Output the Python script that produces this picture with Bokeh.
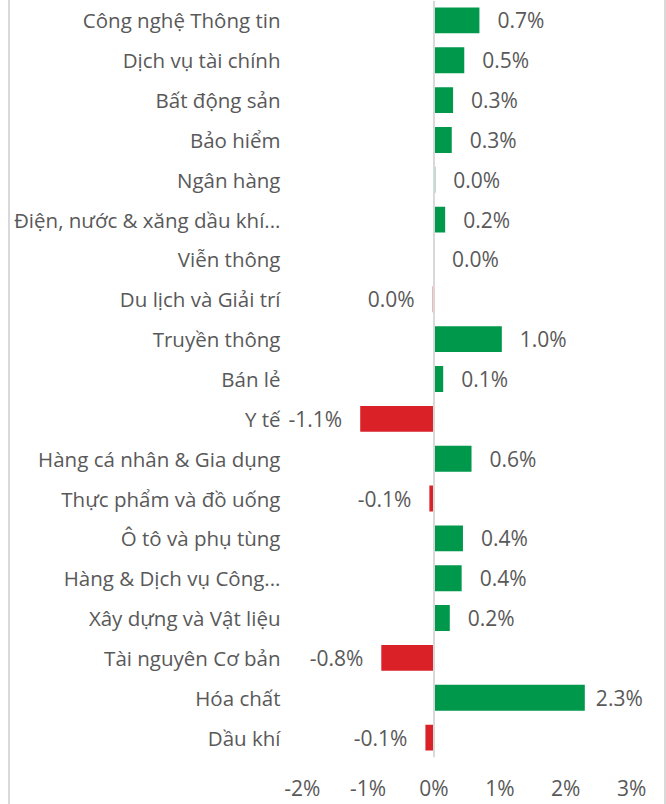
from bokeh.plotting import figure
from bokeh.models import (ColumnDataSource, FactorRange, Range1d, FixedTicker,
                          PrintfTickFormatter, Span, Div)
from bokeh.layouts import row
from bokeh.core.properties import value
from bokeh.embed import file_html
from bokeh.resources import INLINE

categories = [
    "Công nghệ Thông tin", "Dịch vụ tài chính", "Bất động sản", "Bảo hiểm",
    "Ngân hàng", "Điện, nước & xăng dầu khí...", "Viễn thông",
    "Du lịch và Giải trí", "Truyền thông", "Bán lẻ", "Y tế",
    "Hàng cá nhân & Gia dụng", "Thực phẩm và đồ uống", "Ô tô và phụ tùng",
    "Hàng & Dịch vụ Công...", "Xây dựng và Vật liệu", "Tài nguyên Cơ bản",
    "Hóa chất", "Dầu khí",
]
changes = [0.69, 0.46, 0.29, 0.27, 0.02, 0.17, 0.0, -0.02, 1.03, 0.14, -1.12,
           0.57, -0.07, 0.44, 0.42, 0.24, -0.80, 2.29, -0.13]
x_ticks = [-2, -1, 0, 1, 2, 3]

GREEN = "#00994C"
RED = "#DA2128"
TXT = "#595959"
FONT = "Open Sans"
FS = "21px"
FS_CAT = "20.5px"

X_START, X_END = -2.3, 3.5
PX_PER_UNIT = 65.85          # frame scale (px per 1 %)
GAP_PX = 18                  # gap between bar end and its label
LABEL_W_PX = 52              # approximate width of a "0.0%" label
LABEL_LIMIT = 3.17           # right edge of the chart area (data units)


def fmt(v):
    r = round(v, 1)
    if r == 0:
        return "0.0%"
    return f"{r:.1f}%"


colors = [GREEN if v >= 0 else RED for v in changes]
labels = [fmt(v) for v in changes]

src = ColumnDataSource(dict(cat=categories, val=changes, color=colors))

pos_c, pos_v, pos_l = [], [], []
clamp_c, clamp_l = [], []
neg_c, neg_v, neg_l = [], [], []
for c, v, l in zip(categories, changes, labels):
    if v >= 0:
        if v + (GAP_PX + LABEL_W_PX) / PX_PER_UNIT > LABEL_LIMIT:
            clamp_c.append(c); clamp_l.append(l)
        else:
            pos_c.append(c); pos_v.append(v); pos_l.append(l)
    else:
        neg_c.append(c); neg_v.append(v); neg_l.append(l)

pos = ColumnDataSource(dict(cat=pos_c, val=pos_v, lab=pos_l))
clamp = ColumnDataSource(dict(cat=clamp_c, val=[LABEL_LIMIT] * len(clamp_c),
                              lab=clamp_l))
neg = ColumnDataSource(dict(cat=neg_c, val=neg_v, lab=neg_l))

p = figure(width=654, height=804, output_backend="svg", toolbar_location=None,
           y_range=FactorRange(factors=list(reversed(categories))),
           x_range=Range1d(X_START, X_END),
           min_border_left=272, min_border_right=0, min_border_top=0,
           min_border_bottom=43)
p.outline_line_color = None
p.xgrid.visible = False
p.ygrid.visible = False
p.background_fill_color = "white"
p.border_fill_color = "white"

p.add_layout(Span(location=0, dimension="height", line_color="#D9D9D9",
                  line_width=2))

p.hbar(y="cat", right="val", left=0, height=0.65, color="color",
       line_color=None, source=src)

common = dict(text_baseline="middle", text_font=value(FONT),
              text_font_size=FS, text_color=TXT)
p.text(x="val", y="cat", text="lab", source=pos, x_offset=GAP_PX,
       text_align="left", **common)
p.text(x="val", y="cat", text="lab", source=clamp, text_align="right", **common)
p.text(x="val", y="cat", text="lab", source=neg, x_offset=-GAP_PX,
       text_align="right", **common)

p.xaxis.ticker = FixedTicker(ticks=x_ticks)
p.xaxis.formatter = PrintfTickFormatter(format="%d%%")
p.xaxis.axis_line_color = None
p.xaxis.major_tick_line_color = None
p.xaxis.minor_tick_line_color = None
p.xaxis.major_tick_out = 0
p.xaxis.major_label_standoff = 16
p.xaxis.major_label_text_font = FONT
p.xaxis.major_label_text_font_size = FS
p.xaxis.major_label_text_color = TXT

p.yaxis.axis_line_color = None
p.yaxis.major_tick_line_color = None
p.yaxis.minor_tick_line_color = None
p.yaxis.major_tick_out = 0
p.yaxis.major_label_standoff = 2
p.yaxis.major_label_text_font = FONT
p.yaxis.major_label_text_font_size = FS_CAT
p.yaxis.major_label_text_color = TXT

left_pad = Div(width=8, height=804, margin=0)
left_line = Div(width=2, height=804, margin=0,
                styles={"background-color": "#D9D9D9"})
right_line = Div(width=2, height=804, margin=0,
                 styles={"background-color": "#D9D9D9"})

layout = row(left_pad, left_line, p, right_line, spacing=0)

open("out.html", "w").write(file_html(layout, INLINE))
